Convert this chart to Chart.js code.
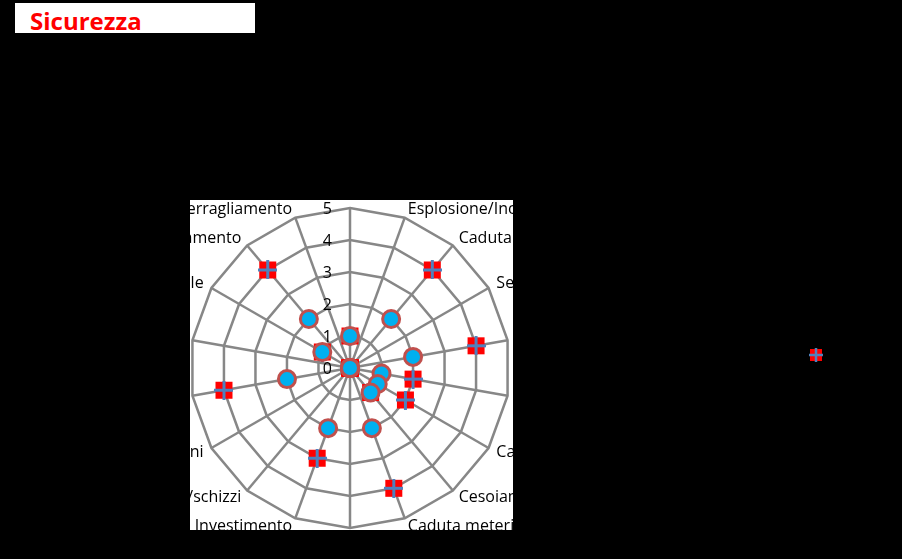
<!DOCTYPE html>
<html>
<head>
<meta charset="utf-8">
<script src="https://cdn.jsdelivr.net/npm/chart.js@4/dist/chart.umd.min.js"></script>
<style>
html,body{margin:0;padding:0;background:#000;width:902px;height:559px;overflow:hidden}
#wrap{position:absolute;left:0;top:0;width:902px;height:559px}
#title{position:absolute;left:15px;top:3px;width:240px;height:30px;background:#fff;overflow:hidden}
#title span{position:absolute;left:15px;top:1px;font:bold 24px/33px 'Open Sans';color:#f00;white-space:nowrap}
</style>
</head>
<body>
<div id="wrap"><canvas id="c" width="902" height="559"></canvas></div>
<div id="title"><span>Sicurezza</span></div>
<script>
// ---- data ----
const CATEGORIES = [
  "Urto",
  "Esplosione/Incendio",
  "Caduta dall'alto",
  "Seppellimento",
  "Elettrocuzione",
  "Rumore",
  "Carichi sospesi",
  "Cesoiamento",
  "Caduta meteriali dall'alto",
  "Scivolamento/Inciampo",
  "Investimento",
  "Getti/schizzi",
  "Radiazioni",
  "Ustioni",
  "Vibrazioni",
  "Movimentazione manuale",
  "Schiacciamento",
  "Impigliamento/Sferragliamento"
];
const SERIES_NAMES = ["Serie1", "Serie2"];
const SERIES_SQUARE = [1, 0, 4, 0, 4, 2, 2, 1, 4, 0, 3, 0, 0, 4, 0, 1, 4, 0];
const SERIES_CIRCLE = [1, 0, 2, 0, 2, 1, 1, 1, 2, 0, 2, 0, 0, 2, 0, 1, 2, 0];
const TICK_LABELS = ["0", "1", "2", "3", "4", "5"];
const SCALE_MIN = 0, SCALE_MAX = 5, SCALE_STEP = 1;

// ---- layout constants ----
const CX = 350, CY = 368, RADIUS = 160, LABEL_GAP = 9;
const BOX = {x: 190, y: 200, w: 323, h: 330};

function markerImage(sq, cr, lw) {
  const c = document.createElement('canvas');
  c.width = cr; c.height = cr;
  const g = c.getContext('2d');
  const o = (cr - sq) / 2;
  g.fillStyle = '#FF0000';
  g.fillRect(o, o, sq, sq);
  g.strokeStyle = '#4F81BD';
  g.lineWidth = lw;
  g.beginPath();
  g.moveTo(cr / 2, 0); g.lineTo(cr / 2, cr);
  g.moveTo(0, cr / 2); g.lineTo(cr, cr / 2);
  g.stroke();
  return c;
}
const plotMarker = markerImage(17, 19, 3);
const legendMarker = markerImage(12, 14, 2.5);

class ExcelRadial extends Chart.RadialLinearScale {
  static id = 'excelRadial';
  setCenterPoint(l, r, t, b) {
    super.setCenterPoint(l, r, t, b);
    this.xCenter = CX; this.yCenter = CY; this.drawingArea = RADIUS;
  }
  fit() {
    super.fit();
    const n = this._pointLabels.length;
    const items = this._pointLabelItems || [];
    this._pointLabelItems = items.map((it, i) => {
      const w = it.right - it.left, h = it.bottom - it.top;
      const p = this.getPointPosition(i, this.drawingArea + LABEL_GAP);
      let top;
      if (i === 0) top = p.y - h - 8;
      else if (i * 2 === n) top = p.y + 8;
      else top = p.y - h / 2;
      const left = it.textAlign === 'left' ? p.x : (it.textAlign === 'right' ? p.x - w : p.x - w / 2);
      return Object.assign({}, it, {visible: true, x: p.x, y: top, top: top, bottom: top + h, left: left, right: left + w});
    });
  }
  drawLabels() {
    const ctx = this.ctx;
    const f = Chart.helpers.toFont(this.options.ticks.font);
    ctx.save();
    ctx.font = f.string;
    ctx.fillStyle = this.options.ticks.color;
    ctx.textAlign = 'right';
    ctx.textBaseline = 'middle';
    this.ticks.forEach(t => {
      const d = this.getDistanceFromCenterForValue(t.value);
      ctx.fillText(t.label, this.xCenter - 18, this.yCenter - d + 1);
    });
    ctx.restore();
  }
  draw(area) {
    const ctx = this.ctx;
    ctx.save();
    ctx.beginPath();
    ctx.rect(BOX.x, BOX.y, BOX.w, BOX.h);
    ctx.clip();
    super.draw(area);
    ctx.restore();
  }
}
Chart.register(ExcelRadial);

const backgroundPlugin = {
  id: 'excelBackground',
  beforeDraw(chart) {
    const ctx = chart.ctx;
    ctx.save();
    ctx.fillStyle = '#000';
    ctx.fillRect(0, 0, chart.width, chart.height);
    ctx.fillStyle = '#fff';
    ctx.fillRect(BOX.x, BOX.y, BOX.w, BOX.h);
    ctx.restore();
  }
};

new Chart(document.getElementById('c'), {
  type: 'radar',
  data: {
    labels: CATEGORIES,
    datasets: [
      {
        label: SERIES_NAMES[0],
        data: SERIES_SQUARE,
        order: 1,
        showLine: false,
        fill: false,
        clip: false,
        backgroundColor: 'rgba(0,0,0,0)',
        borderColor: '#4F81BD',
        pointStyle: plotMarker,
        pointRadius: 9,
        pointBackgroundColor: '#FF0000',
        pointBorderColor: '#4F81BD',
        pointBorderWidth: 0
      },
      {
        label: SERIES_NAMES[1],
        data: SERIES_CIRCLE,
        order: 0,
        showLine: false,
        fill: false,
        clip: false,
        backgroundColor: 'rgba(0,0,0,0)',
        borderColor: '#C0504D',
        pointStyle: 'circle',
        pointRadius: 8.5,
        pointBackgroundColor: '#00B0F0',
        pointBorderColor: '#C0504D',
        pointBorderWidth: 3
      }
    ]
  },
  options: {
    responsive: false,
    animation: false,
    events: [],
    layout: {padding: {left: 0, top: 151, right: 62, bottom: 0}},
    plugins: {
      tooltip: {enabled: false},
      title: {display: false},
      legend: {
        display: true,
        position: 'right',
        align: 'center',
        maxWidth: 40,
        labels: {
          usePointStyle: true,
          boxWidth: 12,
          padding: 10,
          color: '#000',
          font: {family: 'Open Sans', size: 12},
          filter: (item) => item.datasetIndex === 0,
          generateLabels: (chart) => {
            const items = Chart.defaults.plugins.legend.labels.generateLabels(chart);
            items.forEach(it => { if (it.datasetIndex === 0) it.pointStyle = legendMarker; });
            return items;
          }
        }
      }
    },
    scales: {
      r: {
        type: 'excelRadial',
        min: SCALE_MIN,
        max: SCALE_MAX,
        ticks: {
          stepSize: SCALE_STEP,
          color: '#000',
          font: {family: 'Open Sans', size: 16},
          backdropPadding: 0,
          showLabelBackdrop: false,
          callback: (v, i) => TICK_LABELS[i]
        },
        grid: {color: '#878787', lineWidth: 2.5, circular: false},
        angleLines: {color: '#878787', lineWidth: 2.5},
        pointLabels: {
          color: '#000',
          font: {family: 'Open Sans', size: 16}
        }
      }
    }
  },
  plugins: [backgroundPlugin]
});
</script>
</body>
</html>
